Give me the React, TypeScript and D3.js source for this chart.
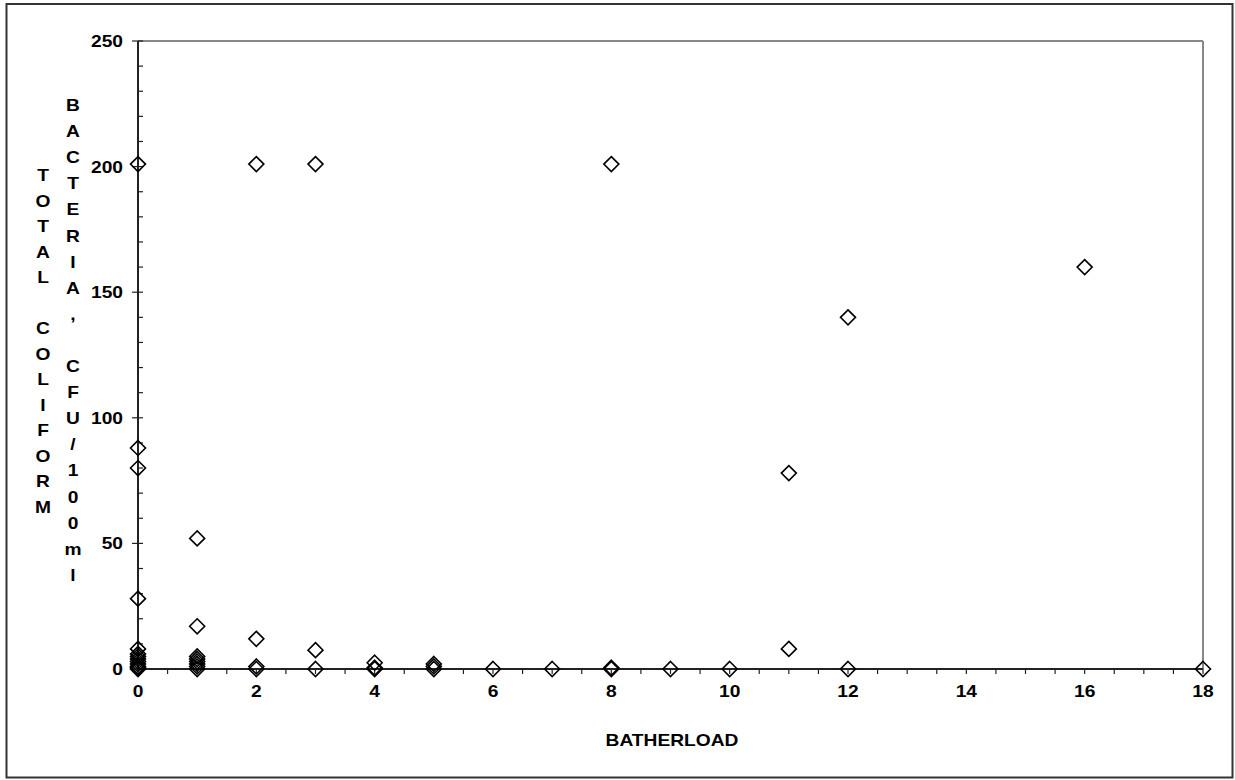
import React from "react";
import * as d3 from "d3";

const batherLoad = [0, 0, 0, 0, 0, 0, 0, 0, 0, 0, 0, 0, 0, 1, 1, 1, 1, 1, 1, 1, 1, 2, 2, 2, 2, 3, 3, 3, 4, 4, 4, 5, 5, 5, 6, 7, 8, 8, 8, 9, 10, 11, 11, 12, 12, 16, 18];
const coliform = [201, 88, 80, 28, 8, 6, 5, 4, 3, 2, 1, 0.5, 0, 52, 17, 5, 4, 3, 2, 1, 0, 201, 12, 1, 0, 201, 7.5, 0, 2.5, 0.5, 0, 2, 1, 0, 0, 0, 201, 0.5, 0, 0, 0, 78, 8, 140, 0, 160, 0];
const xTickLabels = [0, 2, 4, 6, 8, 10, 12, 14, 16, 18];
const yTickLabels = [0, 50, 100, 150, 200, 250];
const yTitle1 = "TOTAL COLIFORM";
const yTitle2 = "BACTERIA, CFU/100ml";
const xTitle = "BATHERLOAD";

const font = "'Liberation Sans', Arial, sans-serif";

function T({ x, y, anchor = "middle", children }: { x: number; y: number; anchor?: string; children: any }) {
  return (
    <text transform={`translate(${x},${y}) scale(1.2,1)`} textAnchor={anchor} fontFamily={font} fontWeight="bold" fontSize={16}>
      {children}
    </text>
  );
}

export default function App() {
  const W = 1235, H = 780;
  const left = 138, right = 1203, top = 41, bottom = 669;
  const x = d3.scaleLinear().domain([0, 18]).range([left, right]);
  const y = d3.scaleLinear().domain([0, 250]).range([bottom, top]);
  const xMinor = d3.range(0, 18.01, 0.5);
  const yMinor = d3.range(0, 250.01, 10);
  const r = 7.5;
  const pts = batherLoad.map((b, i) => [x(b), y(coliform[i])]);
  return (
    <svg width={W} height={H} style={{ position: "absolute", left: 0, top: 0, display: "block" }}>
      <rect x={0} y={0} width={W} height={H} fill="white" />
      <rect x={6.5} y={4} width={1226} height={773.5} fill="none" stroke="#333" strokeWidth={2} />
      <line x1={left} x2={right} y1={top} y2={top} stroke="#888" strokeWidth={2} />
      <line x1={right} x2={right} y1={top} y2={bottom} stroke="#888" strokeWidth={2} />
      <line x1={left} x2={right} y1={bottom} y2={bottom} stroke="#222" strokeWidth={2} />
      <line x1={left} x2={left} y1={top} y2={bottom} stroke="#222" strokeWidth={2} />
      {xMinor.map((v) => (
        <line key={"xm" + v} x1={x(v)} x2={x(v)} y1={bottom} y2={bottom + 5} stroke="#222" strokeWidth={1.2} />
      ))}
      {yMinor.map((v) => (
        <line key={"ym" + v} x1={left} x2={left + 5} y1={y(v)} y2={y(v)} stroke="#222" strokeWidth={1.2} />
      ))}
      {yTickLabels.map((v) => (
        <line key={"yM" + v} x1={left - 6} x2={left} y1={y(v)} y2={y(v)} stroke="#222" strokeWidth={1.2} />
      ))}
      {xTickLabels.map((v) => (
        <T key={"xl" + v} x={x(v)} y={bottom + 28}>{v}</T>
      ))}
      {yTickLabels.map((v) => (
        <T key={"yl" + v} x={left - 15} y={y(v) + 6} anchor="end">{v}</T>
      ))}
      <T x={672} y={746}>{xTitle}</T>
      {yTitle1.split("").map((c, i) => (
        <T key={"t1" + i} x={43} y={181 + i * 25.5}>{c}</T>
      ))}
      {yTitle2.split("").map((c, i) => (
        <T key={"t2" + i} x={73} y={111 + i * 26.1}>{c}</T>
      ))}
      {pts.map(([px, py], i) => (
        <path key={"p" + i} d={`M${px},${py - r}L${px + r},${py}L${px},${py + r}L${px - r},${py}Z`} fill="none" stroke="#000" strokeWidth={1.6} />
      ))}
    </svg>
  );
}
